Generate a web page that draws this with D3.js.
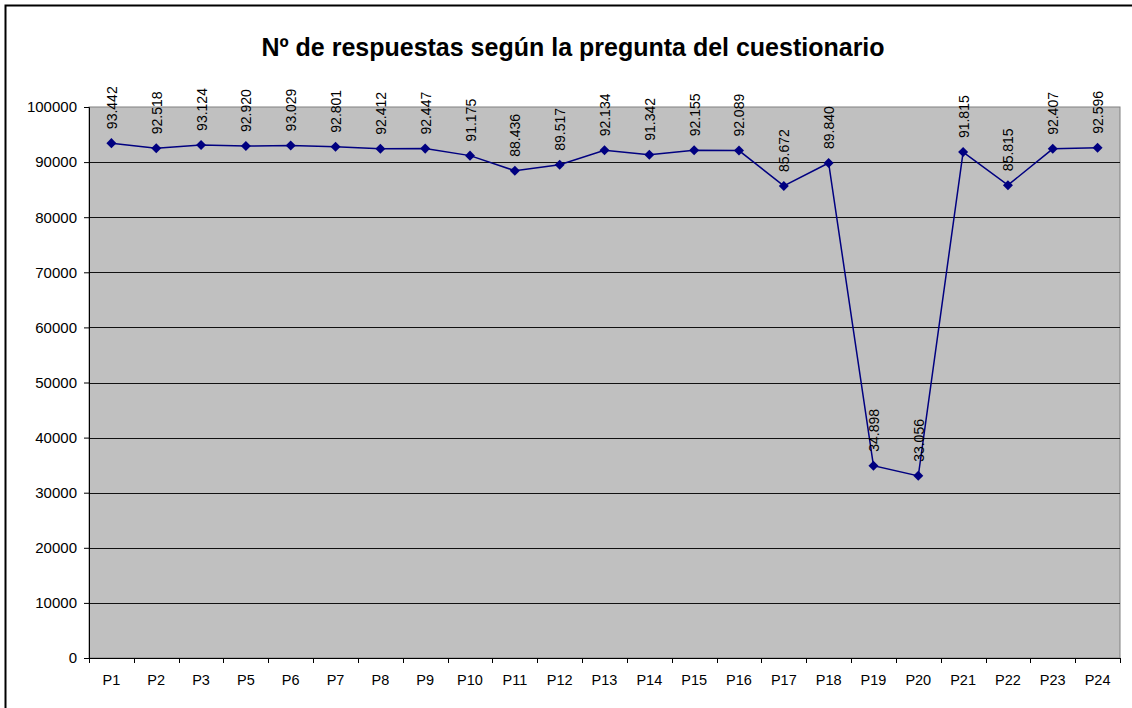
<!DOCTYPE html>
<html>
<head>
<meta charset="utf-8">
<script src="https://cdn.jsdelivr.net/npm/d3@7"></script>
<style>
  body { margin: 0; background: #fff; }
  svg { display: block; font-family: "Liberation Sans", Arial, sans-serif; }
</style>
</head>
<body>
<svg id="chart"></svg>
<script>
// data
var categories = ["P1", "P2", "P3", "P5", "P6", "P7", "P8", "P9", "P10", "P11", "P12", "P13",
                  "P14", "P15", "P16", "P17", "P18", "P19", "P20", "P21", "P22", "P23", "P24"];
var respuestas = [93442, 92518, 93124, 92920, 93029, 92801, 92412, 92447, 91175, 88436, 89517, 92134,
                  91342, 92155, 92089, 85672, 89840, 34898, 33056, 91815, 85815, 92407, 92596];
var yTicks = [0, 10000, 20000, 30000, 40000, 50000, 60000, 70000, 80000, 90000, 100000];
var title = "Nº de respuestas según la pregunta del cuestionario";

var svgWidth = 1132, svgHeight = 708;
var margin = {top: 107, right: 12, bottom: 50, left: 89};
var width = svgWidth - margin.left - margin.right;
var height = svgHeight - margin.top - margin.bottom;

var svg = d3.select("#chart")
    .attr("width", svgWidth)
    .attr("height", svgHeight);

// outer chart border (only top and left are in frame)
svg.append("rect")
    .attr("x", 5.5).attr("y", 5.5)
    .attr("width", svgWidth + 20).attr("height", svgHeight + 20)
    .attr("fill", "#fff")
    .attr("stroke", "#000")
    .attr("stroke-width", 2);

svg.append("text")
    .attr("x", 573)
    .attr("y", 56)
    .attr("text-anchor", "middle")
    .attr("font-size", 25)
    .attr("font-weight", "bold")
    .text(title);

var g = svg.append("g")
    .attr("transform", "translate(" + margin.left + "," + margin.top + ")");

var x = d3.scaleBand().domain(categories).range([0, width]).padding(0);
var y = d3.scaleLinear().domain([0, 100000]).range([height, 0]);

// plot area
g.append("rect")
    .attr("width", width)
    .attr("height", height)
    .attr("fill", "#c0c0c0")
    .attr("stroke", "#808080")
    .attr("stroke-width", 1);

// gridlines
g.append("g")
    .selectAll("line")
    .data(yTicks.filter(function(d) { return d > 0 && d < 100000; }))
    .join("line")
    .attr("x1", 0).attr("x2", width)
    .attr("y1", function(d) { return Math.round(y(d)) + 0.5; })
    .attr("y2", function(d) { return Math.round(y(d)) + 0.5; })
    .attr("stroke", "#111")
    .attr("stroke-width", 1);

// y axis
var yAxis = g.append("g")
    .call(d3.axisLeft(y).tickValues(yTicks).tickSize(5).tickPadding(7).tickFormat(d3.format("d")));
yAxis.select(".domain").attr("stroke", "#000");
yAxis.selectAll("text").attr("font-size", 15).attr("fill", "#000").attr("font-family", "Liberation Sans, Arial, sans-serif");

// x axis
var xAxis = g.append("g")
    .attr("transform", "translate(0," + height + ")")
    .call(d3.axisBottom(x).tickSize(0).tickPadding(17));
xAxis.select(".domain").attr("stroke", "#000");
xAxis.selectAll("text").attr("font-size", 14.5).attr("fill", "#000").attr("font-family", "Liberation Sans, Arial, sans-serif");

// category boundary ticks
var bounds = categories.map(function(c) { return x(c); }).concat([width]);
xAxis.selectAll(".bound")
    .data(bounds)
    .join("line")
    .attr("class", "bound")
    .attr("x1", function(d) { return Math.round(d) + 0.5; })
    .attr("x2", function(d) { return Math.round(d) + 0.5; })
    .attr("y1", 0).attr("y2", 5)
    .attr("stroke", "#000");

var data = categories.map(function(c, i) { return {cat: c, value: respuestas[i]}; });
var cx = function(d) { return x(d.cat) + x.bandwidth() / 2; };

var line = d3.line()
    .x(cx)
    .y(function(d) { return y(d.value); });

g.append("path")
    .datum(data)
    .attr("fill", "none")
    .attr("stroke", "#000080")
    .attr("stroke-width", 1.5)
    .attr("d", line);

g.append("g")
    .selectAll("path")
    .data(data)
    .join("path")
    .attr("transform", function(d) { return "translate(" + cx(d) + "," + y(d.value) + ")"; })
    .attr("d", d3.symbol().type(d3.symbolDiamond2).size(64))
    .attr("fill", "#000080");

var fmt = function(v) { return d3.format(",")(v).replace(/,/g, "."); };

g.append("g")
    .selectAll("text")
    .data(data)
    .join("text")
    .attr("transform", function(d) { return "translate(" + (cx(d) + 5.5) + "," + (y(d.value) - 14) + ") rotate(-90)"; })
    .attr("text-anchor", "start")
    .attr("font-size", 14)
    .attr("fill", "#000")
    .text(function(d) { return fmt(d.value); });
</script>
</body>
</html>
